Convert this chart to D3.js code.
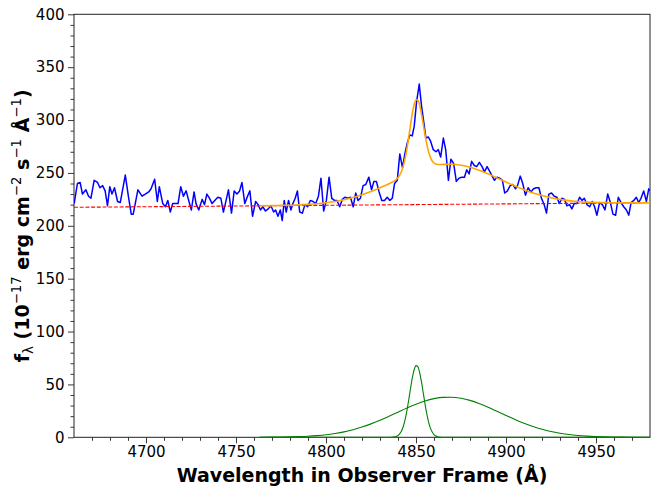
<!DOCTYPE html>
<html>
<head>
<meta charset="utf-8">
<script src="https://cdn.jsdelivr.net/npm/d3@7"></script>
<style>
    body { margin: 0; background: #fff; }
    text { font-family: "DejaVu Sans", sans-serif; fill: #000; }
    .tick-label { font-size: 15px; }
    .axis-title { font-size: 19px; font-weight: bold; }
</style>
</head>
<body>
<div id="chart"></div>
<script>

// observed spectrum (wavelength in Angstrom, flux in 1e-17 erg/cm2/s/A)
var obsWave = [4660.1,4661.9,4663.4,4664.7,4666.6,4668.1,4669.4,4671.2,4673.1,4674.4,4675.9,4677.3,4678.6,4679.9,4681.1,4682.5,4684.2,4685.7,4688.5,4690.2,
    4691.8,4692.9,4695.5,4697.8,4699.6,4701.5,4702.8,4704.8,4706.3,4707.4,4709.3,4710.8,4712.1,4713.5,4714.8,4716.7,4717.8,4719.3,4720.8,4722.3,
    4723.7,4725.2,4726.7,4727.8,4729.3,4731.2,4732.5,4733.8,4735.3,4736.7,4738.2,4739.9,4741.6,4743.0,4744.5,4745.8,4747.5,4749.0,4750.5,4752.0,
    4753.3,4754.9,4756.4,4757.7,4759.2,4760.9,4762.3,4763.6,4764.9,4766.4,4767.9,4769.4,4770.9,4772.0,4773.3,4774.6,4775.7,4776.8,4777.9,4779.2,
    4780.5,4781.6,4782.9,4784.1,4785.4,4786.9,4788.3,4789.8,4791.3,4792.8,4794.3,4795.8,4797.2,4798.7,4800.2,4801.7,4803.2,4804.7,4806.1,4807.6,
    4809.1,4810.4,4812.3,4813.6,4815.1,4816.5,4817.8,4819.1,4820.6,4822.1,4823.8,4825.3,4826.6,4828.0,4829.5,4831.0,4832.5,4834.0,4835.5,4836.8,
    4838.1,4839.6,4841.0,4842.5,4843.8,4845.1,4846.6,4847.9,4849.0,4850.3,4851.8,4853.1,4854.4,4855.5,4856.8,4858.1,4859.6,4861.1,4862.4,4863.7,
    4865.2,4866.5,4868.0,4869.4,4870.9,4872.4,4873.9,4875.4,4876.9,4878.2,4879.5,4880.9,4882.4,4883.7,4885.2,4886.7,4888.0,4889.5,4890.8,4892.3,
    4893.6,4895.0,4896.5,4898.0,4899.3,4900.8,4902.3,4903.8,4905.3,4906.4,4907.9,4909.3,4910.8,4912.3,4913.8,4915.3,4916.8,4918.3,4919.7,4921.2,
    4922.5,4923.8,4925.3,4926.8,4928.3,4929.6,4931.1,4932.5,4933.8,4935.3,4936.6,4937.9,4939.4,4940.9,4942.2,4943.5,4945.0,4946.5,4947.9,4949.2,
    4950.5,4952.0,4953.5,4955.0,4956.5,4958.0,4959.4,4960.9,4962.4,4963.9,4965.4,4966.9,4968.2,4969.5,4971.0,4972.4,4973.7,4975.0,4976.5,4978.0,
    4979.3,4980.0];
var obsFlux = [221,240,241,230,234,228,226,243,241,236,238,233,219,237,230,236,223,222,248,228,
    211,211,234,228,230,232,235,244,223,237,221,218,224,213,221,221,221,237,228,233,
    224,215,232,221,215,225,220,230,226,221,224,227,226,213,224,234,212,233,230,233,
    241,221,228,233,209,223,220,215,218,214,216,219,213,215,209,215,205,224,213,224,
    215,221,226,233,213,212,220,218,224,223,221,228,245,214,224,246,226,224,224,218,
    225,227,226,227,218,231,224,226,238,239,246,234,242,242,232,224,224,227,224,226,
    240,243,268,255,268,278,286,285,294,317,334,313,297,283,284,280,272,270,272,265,
    283,272,243,263,259,242,245,246,246,253,249,261,257,256,260,256,251,256,252,247,
    243,246,245,243,231,233,238,239,235,238,247,240,229,236,232,235,236,236,226,220,
    212,230,231,228,227,221,226,225,219,220,216,221,221,227,224,226,220,218,223,218,
    210,222,220,215,230,222,211,210,227,222,218,215,210,222,224,227,222,226,233,223,
    235,233];

// continuum (red dashed)
var contWave = [4660, 4980];
var contFlux = [217.5, 221.8];

// total fit (orange)
var fitWave = [4763,4770,4775,4780,4785,4790,4795,4800,4805,4810,4815,4820,4825,4830,4835,4838,4840,4842,4843,4844,
    4845,4846,4847,4848,4849,4850,4851,4852,4853,4854,4855,4856,4857,4858,4859,4860,4861,4862,4863,4865,
    4870,4875,4880,4885,4890,4895,4900,4905,4910,4915,4920,4925,4930,4935,4940,4945,4950,4955,4960,4965,
    4970,4975,4980];
var fitFlux = [218.9,219.1,219.3,219.5,219.8,220.3,220.9,221.8,223.0,224.7,226.7,229.3,232.4,235.9,239.8,242.5,245.4,251.6,256.9,264.2,
    273.4,284.3,295.8,306.6,314.8,319.2,319.0,314.2,306.1,296.2,286.1,277.2,269.9,264.7,261.3,259.4,258.4,258.0,257.9,258.05,
    258.2,257.3,255.4,252.6,249.1,245.3,241.4,237.6,234.2,231.1,228.6,226.6,225.0,223.8,223.0,222.4,222.1,221.9,221.8,221.7,
    221.7,221.7,221.8];

// narrow component (green)
var narrowWave = [4763,4830,4836,4838,4839,4840,4841,4842,4843,4844,4845,4846,4847,4848,4849,4850,4851,4852,4853,4854,
    4855,4856,4857,4858,4859,4860,4861,4862,4863,4866,4980];
var narrowFlux = [0,0,0.05,0.4,0.8,1.7,3.4,6.2,10.7,17.2,25.7,35.8,46.6,56.6,64.1,67.8,66.9,61.5,52.8,42.3,
    31.6,22.1,14.4,8.7,4.95,2.6,1.3,0.6,0.25,0,0];

// broad component (green)
var broadWave = [4763,4770,4775,4780,4785,4790,4795,4800,4805,4810,4815,4820,4825,4830,4835,4840,4845,4850,4855,4860,
    4865,4870,4875,4880,4885,4890,4895,4900,4905,4910,4915,4920,4925,4930,4935,4940,4945,4950,4955,4960,
    4965,4970,4975,4980];
var broadFlux = [0.05,0.13,0.22,0.38,0.63,1.0,1.6,2.4,3.6,5.1,7.2,9.7,12.7,16.1,19.9,23.8,27.7,31.3,34.4,36.6,
    37.8,37.9,36.9,34.9,32.0,28.5,24.6,20.7,16.8,13.3,10.2,7.6,5.5,3.9,2.6,1.7,1.1,0.7,0.4,0.25,
    0.14,0.08,0.04,0.02];

var xTicks = [4700, 4750, 4800, 4850, 4900, 4950];
var yTicks = [0, 50, 100, 150, 200, 250, 300, 350, 400];


// * Creating svg
var width = 664,
    height = 498;

var margin = {left: 74, right: 14, top: 14.3, bottom: 60.7};
var plotW = width - margin.left - margin.right,
    plotH = height - margin.top - margin.bottom;

var svg = d3.select("#chart").append("svg")
    .attr("width", width)
    .attr("height", height);

var g = svg.append("g")
    .attr("transform", "translate(" + margin.left + "," + margin.top + ")");

g.append("clipPath").attr("id", "plot-clip")
    .append("rect").attr("width", plotW).attr("height", plotH);


// * Creating scales
var x = d3.scaleLinear().domain([4660, 4980]).range([0, plotW]);
var y = d3.scaleLinear().domain([0, 400]).range([plotH, 0]);


// * Axes
var xAxis = d3.axisBottom(x).tickValues(xTicks).tickFormat(d3.format("d")).tickSize(6).tickPadding(3.5);
var yAxis = d3.axisLeft(y).tickValues(yTicks).tickFormat(d3.format("d")).tickSize(6).tickPadding(3.5);

// minor ticks every 10
var xMinor = d3.range(4670, 4980, 10).filter(function(d){ return d % 50 !== 0; });
var yMinor = d3.range(10, 400, 10).filter(function(d){ return d % 50 !== 0; });

var xMinorG = g.append("g")
    .attr("transform", "translate(0," + plotH + ")")
    .call(d3.axisBottom(x).tickValues(xMinor).tickSize(3.5).tickFormat(""));
var yMinorG = g.append("g")
    .call(d3.axisLeft(y).tickValues(yMinor).tickSize(3.5).tickFormat(""));

var xAxisG = g.append("g")
    .attr("transform", "translate(0," + plotH + ")")
    .call(xAxis);
var yAxisG = g.append("g").call(yAxis);

[xMinorG, yMinorG, xAxisG, yAxisG].forEach(function(ax){
    ax.selectAll(".domain").remove();
    ax.selectAll("line").attr("stroke", "#222").attr("stroke-width", 0.9);
    ax.selectAll("text")
        .attr("class", "tick-label")
        .attr("font-family", null)
        .attr("font-size", null);
});

// frame
g.append("rect")
    .attr("width", plotW)
    .attr("height", plotH)
    .attr("fill", "none")
    .attr("stroke", "#222")
    .attr("stroke-width", 1);


// * Lines
var plot = g.append("g").attr("clip-path", "url(#plot-clip)");

function pairs(wave, flux) {
    return wave.map(function(w, i){ return [w, flux[i]]; });
}

var line = d3.line()
    .x(function(d){ return x(d[0]); })
    .y(function(d){ return y(d[1]); });

var smooth = d3.line()
    .curve(d3.curveMonotoneX)
    .x(function(d){ return x(d[0]); })
    .y(function(d){ return y(d[1]); });

plot.append("path")
    .attr("d", line(pairs(obsWave, obsFlux)))
    .attr("fill", "none")
    .attr("stroke", "#0000ff")
    .attr("stroke-width", 1.5)
    .attr("stroke-linejoin", "round");

plot.append("path")
    .attr("d", line(pairs(contWave, contFlux)))
    .attr("fill", "none")
    .attr("stroke", "#ff0000")
    .attr("stroke-width", 1.1)
    .attr("stroke-dasharray", "4,1.7");

plot.append("path")
    .attr("d", smooth(pairs(fitWave, fitFlux)))
    .attr("fill", "none")
    .attr("stroke", "orange")
    .attr("stroke-width", 1.6);

plot.append("path")
    .attr("d", smooth(pairs(narrowWave, narrowFlux)))
    .attr("fill", "none")
    .attr("stroke", "green")
    .attr("stroke-width", 1.1);

plot.append("path")
    .attr("d", smooth(pairs(broadWave, broadFlux)))
    .attr("fill", "none")
    .attr("stroke", "green")
    .attr("stroke-width", 1.1);


// * Axis titles
svg.append("text")
    .attr("class", "axis-title")
    .attr("x", margin.left + plotW / 2)
    .attr("y", 482)
    .attr("text-anchor", "middle")
    .text("Wavelength in Observer Frame (Å)");

var yTitle = svg.append("text")
    .attr("class", "axis-title")
    .attr("text-anchor", "middle")
    .attr("transform", "translate(28.5," + (margin.top + plotH / 2) + ") rotate(-90)");

var parts = [
    {t: "f", s: 0},
    {t: "λ", s: -1},
    {t: " (10", s: 0},
    {t: "−17", s: 1},
    {t: " erg cm", s: 0},
    {t: "−2", s: 1},
    {t: " s", s: 0},
    {t: "−1", s: 1},
    {t: " Å", s: 0},
    {t: "−1", s: 1},
    {t: ")", s: 0}
];
var prev = 0;
parts.forEach(function(p){
    var shift = p.s === 1 ? -8 : (p.s === -1 ? 4 : 0);
    var ts = yTitle.append("tspan")
        .attr("dy", shift - prev)
        .text(p.t);
    if (p.s !== 0) {
        ts.style("font-size", "13.3px").style("font-weight", "normal");
    }
    prev = shift;
});

</script>
</body>
</html>
